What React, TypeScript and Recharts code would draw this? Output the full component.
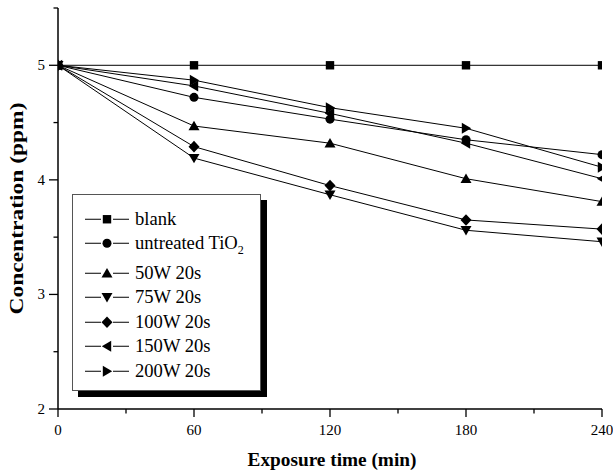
import React from 'react';
import { LineChart, Line, XAxis, YAxis, Legend, Label } from 'recharts';

const times = [0, 60, 120, 180, 240];
const blank = [5, 5, 5, 5, 5];
const untreated = [5, 4.72, 4.53, 4.35, 4.22];
const w50 = [5, 4.47, 4.32, 4.01, 3.81];
const w75 = [5, 4.19, 3.87, 3.56, 3.46];
const w100 = [5, 4.29, 3.95, 3.65, 3.57];
const w150 = [5, 4.82, 4.58, 4.32, 4.01];
const w200 = [5, 4.87, 4.63, 4.45, 4.11];
const seriesNames = ['blank', 'untreated TiO2', '50W 20s', '75W 20s', '100W 20s', '150W 20s', '200W 20s'];
const seriesShapes = ['square', 'circle', 'up', 'down', 'diamond', 'left', 'right'];
const seriesValues = [blank, untreated, w50, w75, w100, w150, w200];
const xTicks = [0, 30, 60, 90, 120, 150, 180, 210, 240];
const yTicks = [2, 2.5, 3, 3.5, 4, 4.5, 5, 5.5];
const xTitle = 'Exposure time (min)';
const yTitle = 'Concentration (ppm)';

const FONT = "'Liberation Serif', Tinos, 'DejaVu Serif', 'Times New Roman', serif";

const data = times.map((t, i) => {
  const row: any = { t };
  seriesValues.forEach((vals, k) => {
    row['s' + k] = vals[i];
  });
  return row;
});

function Marker({ cx, cy, shape }: { cx: number; cy: number; shape: string }) {
  const f = '#000';
  switch (shape) {
    case 'square':
      return <rect x={cx - 4.2} y={cy - 4.2} width={8.4} height={8.4} fill={f} />;
    case 'circle':
      return <circle cx={cx} cy={cy} r={4.5} fill={f} />;
    case 'up':
      return <polygon points={`${cx - 5.5},${cy + 4.2} ${cx + 5.5},${cy + 4.2} ${cx},${cy - 5.2}`} fill={f} />;
    case 'down':
      return <polygon points={`${cx - 5.5},${cy - 4.2} ${cx + 5.5},${cy - 4.2} ${cx},${cy + 5.2}`} fill={f} />;
    case 'diamond':
      return <polygon points={`${cx},${cy - 5.8} ${cx + 5.5},${cy} ${cx},${cy + 5.8} ${cx - 5.5},${cy}`} fill={f} />;
    case 'left':
      return <polygon points={`${cx + 4.2},${cy - 5.5} ${cx + 4.2},${cy + 5.5} ${cx - 5.2},${cy}`} fill={f} />;
    case 'right':
      return <polygon points={`${cx - 4.2},${cy - 5.5} ${cx - 4.2},${cy + 5.5} ${cx + 5.2},${cy}`} fill={f} />;
    default:
      return null;
  }
}

const XTick = (props: any) => {
  const { x, y, payload } = props;
  const major = payload.value % 60 === 0;
  return (
    <g>
      <line x1={x} x2={x} y1={y} y2={y + (major ? 8 : 4.5)} stroke="#000" strokeWidth={1.3} />
      {major && (
        <text x={x} y={y + 26} textAnchor="middle" style={{ fontFamily: FONT }} fontSize={15} fill="#000">
          {payload.value}
        </text>
      )}
    </g>
  );
};

const YTick = (props: any) => {
  const { x, y, payload } = props;
  const major = Number.isInteger(payload.value);
  return (
    <g>
      <line x1={x} x2={x - (major ? 9 : 4.5)} y1={y} y2={y} stroke="#000" strokeWidth={1.3} />
      {major && (
        <text x={x - 13} y={y + 5} textAnchor="end" style={{ fontFamily: FONT }} fontSize={15} fill="#000">
          {payload.value}
        </text>
      )}
    </g>
  );
};

const YTitle = (props: any) => {
  const vb = props.viewBox;
  const cx = vb.x + 16;
  const cy = vb.y + vb.height / 2;
  return (
    <text
      x={cx}
      y={cy}
      transform={`rotate(-90, ${cx}, ${cy})`}
      textAnchor="middle"
      dominantBaseline="central"
      textLength={212}
      lengthAdjust="spacingAndGlyphs"
      style={{ fontFamily: FONT }}
      fontWeight="bold"
      fontSize={19.5}
      fill="#000"
    >
      {yTitle}
    </text>
  );
};

const XTitle = (props: any) => {
  const vb = props.viewBox;
  const cx = vb.x + vb.width / 2;
  return (
    <text x={cx + 2} y={vb.y + 57} textAnchor="middle" style={{ fontFamily: FONT }} fontWeight="bold" fontSize={19.3} fill="#000">
      {xTitle}
    </text>
  );
};

function renderName(name: string) {
  if (name.endsWith('TiO2')) {
    return (
      <>
        {name.slice(0, -1)}
        <span style={{ fontSize: 12, position: 'relative', top: 5 }}>2</span>
      </>
    );
  }
  return name;
}

const LegendBox = (props: any) => {
  const payload = [...(props.payload || [])].sort(
    (a: any, b: any) => seriesNames.indexOf(a.value) - seriesNames.indexOf(b.value)
  );
  return (
    <div
      style={{
        width: 189,
        height: 197,
        boxSizing: 'border-box',
        border: '1px solid #555',
        background: '#fff',
        boxShadow: '6px 6px 0 #000',
        paddingTop: 11.5,
        fontFamily: FONT,
        fontSize: 18.6,
        color: '#000',
      }}
    >
      {payload.map((entry: any, i: number) => {
        const idx = seriesNames.indexOf(entry.value);
        const shape = seriesShapes[idx];
        const h = entry.value.endsWith('TiO2') ? 29.5 : 24.5;
        return (
          <div key={i} style={{ position: 'relative', height: h }}>
            <svg width={62} height={24.5} style={{ position: 'absolute', left: 0, top: 0 }}>
              <line x1={12} x2={28} y1={12.25} y2={12.25} stroke="#000" strokeWidth={1} />
              <line x1={40} x2={56} y1={12.25} y2={12.25} stroke="#000" strokeWidth={1} />
              <Marker cx={34} cy={12.25} shape={shape} />
            </svg>
            <span
              style={{
                position: 'absolute',
                left: 62,
                top: 0,
                lineHeight: '24.5px',
                whiteSpace: 'nowrap',
                fontFamily: FONT,
              }}
            >
              {renderName(entry.value)}
            </span>
          </div>
        );
      })}
    </div>
  );
};

export default function App() {
  return (
    <div style={{ position: 'absolute', left: 0, top: 0, width: 613, height: 474, background: '#fff', fontFamily: FONT }}>
      <LineChart width={613} height={474} data={data} margin={{ top: 8, right: 11, left: 0, bottom: 0 }}>
        <XAxis
          dataKey="t"
          type="number"
          domain={[0, 240]}
          ticks={xTicks}
          interval={0}
          allowDataOverflow
          height={65}
          tickSize={0}
          tickMargin={0}
          tickLine={false}
          tick={<XTick />}
          axisLine={{ stroke: '#000', strokeWidth: 1.5 }}
        >
          <Label content={<XTitle />} />
        </XAxis>
        <XAxis
          xAxisId="top"
          orientation="top"
          type="number"
          domain={[0, 240]}
          height={0}
          tick={false}
          tickLine={false}
          axisLine={{ stroke: '#000', strokeWidth: 1.5 }}
        />
        <YAxis
          type="number"
          domain={[2, 5.5]}
          ticks={yTicks}
          interval={0}
          allowDataOverflow
          width={58}
          tickSize={0}
          tickMargin={0}
          tickLine={false}
          tick={<YTick />}
          axisLine={{ stroke: '#000', strokeWidth: 1.5 }}
        >
          <Label content={<YTitle />} />
        </YAxis>
        <YAxis
          yAxisId="right"
          orientation="right"
          type="number"
          domain={[2, 5.5]}
          width={0}
          tick={false}
          tickLine={false}
          axisLine={{ stroke: '#000', strokeWidth: 1.5 }}
        />
        <Legend
          layout="vertical"
          align="center"
          verticalAlign="middle"
          itemSorter={null as any}
          wrapperStyle={{ left: 72, top: 194, width: 189, height: 197 }}
          content={<LegendBox />}
        />
        {seriesNames.map((name, k) => (
          <Line
            key={name}
            name={name}
            dataKey={'s' + k}
            type="linear"
            stroke="#000"
            strokeWidth={1}
            isAnimationActive={false}
            activeDot={false}
            dot={(p: any) => <Marker key={`${k}-${p.index}`} cx={p.cx} cy={p.cy} shape={seriesShapes[k]} />}
          />
        ))}
      </LineChart>
    </div>
  );
}
